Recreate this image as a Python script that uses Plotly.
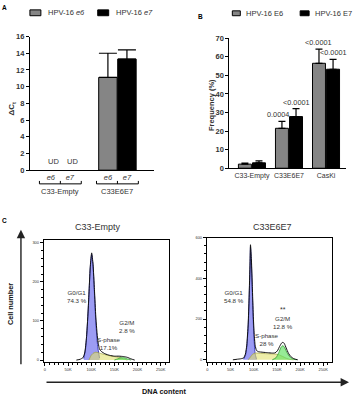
import plotly.graph_objects as go

W, H = 353, 400
FONT = "Liberation Sans, Arial, sans-serif"
TXT = "#333333"

# ---------------- data ----------------
# Panel A (qPCR, delta Ct)
A_groups = ["C33-Empty", "C33E6E7"]
A_genes = ["e6", "e7"]
A_e6 = [None, 11.1]
A_e6_err = [0, 2.9]
A_e7 = [None, 13.3]
A_e7_err = [0, 1.1]
A_undetected = [True, False]

# Panel B (frequency %)
B_groups = ["C33-Empty", "C33E6E7", "CasKi"]
B_e6 = [2.2, 21.5, 56.5]
B_e6_err = [0.5, 3.7, 7.6]
B_e7 = [2.9, 27.8, 53.3]
B_e7_err = [1.0, 4.3, 5.3]
B_e6_p = ["", "0.0004", "<0.0001"]
B_e7_p = ["", "<0.0001", "<0.0001"]

# Panel C (cell-cycle histograms), x in K units
L_title = "C33-Empty"
L_x_g1 = [84, 88, 92, 95, 98, 101, 104, 107, 110, 114, 118]
L_y_g1 = [4, 30, 95, 165, 235, 270, 240, 170, 95, 35, 5]
L_x_s = [95, 100, 105, 110, 115, 120, 130, 140, 150, 160, 170, 178]
L_y_s = [0, 12, 18, 20, 19, 17, 14, 11, 9, 7, 3, 0]
L_x_g2 = [150, 157, 164, 171, 178, 186]
L_y_g2 = [0, 3, 6, 6, 3, 0]
L_x_tot = [68, 76, 82, 86, 90, 94, 98, 101, 104, 107, 110, 114, 118, 122, 130, 140, 150, 160, 170, 178, 186, 194]
L_y_tot = [0, 2, 6, 18, 60, 140, 240, 274, 245, 180, 110, 52, 28, 22, 16, 12, 10, 10, 9, 7, 3, 0]
L_labels = ["G0/G1<br>74.3 %", "S-phase<br>17.1%", "G2/M<br>2.8 %"]

R_title = "C33E6E7"
R_x_g1 = [78, 82, 85, 88, 90, 92, 93, 95, 97, 99, 101, 103, 106]
R_y_g1 = [3, 20, 60, 160, 290, 460, 555, 470, 330, 190, 90, 30, 3]
R_x_s = [88, 93, 98, 103, 110, 120, 130, 140, 148, 155, 162, 170, 178, 186]
R_y_s = [0, 14, 28, 33, 33, 31, 30, 29, 28, 24, 17, 8, 2, 0]
R_x_g2 = [140, 148, 154, 159, 163, 167, 172, 178, 185, 192]
R_y_g2 = [0, 10, 35, 62, 70, 58, 34, 14, 4, 0]
R_x_tot = [55, 65, 72, 78, 82, 85, 88, 90, 92, 93, 95, 97, 99, 101, 103, 106, 110, 120, 130, 140, 146, 151, 156, 160, 163, 166, 170, 175, 180, 187, 195]
R_y_tot = [0, 3, 5, 9, 28, 72, 175, 305, 475, 565, 490, 360, 220, 125, 72, 46, 40, 37, 35, 33, 34, 44, 66, 82, 86, 80, 58, 32, 16, 5, 0]
R_labels = ["G0/G1<br>54.8 %", "S-phase<br>28 %", "G2/M<br>12.8 %"]

C_xticks = [0, 50, 100, 150, 200, 250]
C_xticktext = ["0", "50K", "100K", "150K", "200K", "250K"]


def pxx(x):
    return x / W


def pyy(y):
    return 1 - y / H


GREY = "#858585"
fig = go.Figure()

# ---------------- Panel A ----------------
A_pos_e6 = [g * 3 + 0 for g in range(len(A_groups))]
A_pos_e7 = [g * 3 + 1 for g in range(len(A_groups))]
fig.add_trace(go.Bar(x=A_pos_e6, y=A_e6, width=0.97, marker=dict(color=GREY, line=dict(color="black", width=1)),
                     error_y=dict(type="data", array=A_e6_err, arrayminus=[0] * len(A_e6), symmetric=False,
                                  color="black", thickness=1.2, width=9),
                     xaxis="x", yaxis="y", showlegend=False))
fig.add_trace(go.Bar(x=A_pos_e7, y=A_e7, width=0.97, marker=dict(color="black", line=dict(color="black", width=1)),
                     error_y=dict(type="data", array=A_e7_err, arrayminus=[0] * len(A_e7), symmetric=False,
                                  color="black", thickness=1.2, width=9),
                     xaxis="x", yaxis="y", showlegend=False))

# ---------------- Panel B ----------------
B_pos = list(range(len(B_groups)))
fig.add_trace(go.Bar(x=B_pos, y=B_e6, width=0.35, offset=-0.365,
                     marker=dict(color=GREY, line=dict(color="black", width=1)),
                     error_y=dict(type="data", array=B_e6_err, arrayminus=[0] * 3, symmetric=False,
                                  color="black", thickness=1.2, width=3.5),
                     xaxis="x2", yaxis="y2", showlegend=False))
fig.add_trace(go.Bar(x=B_pos, y=B_e7, width=0.35, offset=0.015,
                     marker=dict(color="black", line=dict(color="black", width=1)),
                     error_y=dict(type="data", array=B_e7_err, arrayminus=[0] * 3, symmetric=False,
                                  color="black", thickness=1.2, width=3.5),
                     xaxis="x2", yaxis="y2", showlegend=False))


# ---------------- Panel C ----------------
def hist(xa, ya, xs, ys, fill, line, w=0.8):
    fig.add_trace(go.Scatter(x=xs, y=ys, mode="lines", fill="tozeroy", fillcolor=fill,
                             line=dict(color=line, width=w, shape="spline", smoothing=0.5),
                             xaxis=xa, yaxis=ya, showlegend=False, hoverinfo="skip"))


for xa, ya, comps in [("x3", "y3", (L_x_g1, L_y_g1, L_x_s, L_y_s, L_x_g2, L_y_g2, L_x_tot, L_y_tot)),
                      ("x4", "y4", (R_x_g1, R_y_g1, R_x_s, R_y_s, R_x_g2, R_y_g2, R_x_tot, R_y_tot))]:
    xg1, yg1, xs, ys, xg2, yg2, xt, yt = comps
    hist(xa, ya, xg1, yg1, "rgba(95,95,235,0.62)", "#3030b8", 0.9)
    hist(xa, ya, xs, ys, "rgba(225,225,110,0.6)", "#a0a040", 0.7)
    hist(xa, ya, xg2, yg2, "rgba(95,225,95,0.65)", "#2f9a2f", 0.8)
    fig.add_trace(go.Scatter(x=xt, y=yt, mode="lines",
                             line=dict(color="#111111", width=1, shape="spline", smoothing=0.5),
                             xaxis=xa, yaxis=ya, showlegend=False, hoverinfo="skip"))

# ---------------- axes ----------------
bold_tick = dict(family=FONT, size=7.5, color=TXT, weight="bold")
axis_common = dict(showline=True, linecolor="black", linewidth=1, ticks="outside", ticklen=3,
                   tickcolor="black", showgrid=False, zeroline=False, fixedrange=True)
no_ticks = {k: v for k, v in axis_common.items() if k not in ("ticks", "ticklen")}

layout = dict(
    width=W, height=H, margin=dict(l=0, r=0, t=0, b=0), autosize=False,
    paper_bgcolor="white", plot_bgcolor="rgba(0,0,0,0)", barmode="overlay",
    font=dict(family=FONT, color=TXT),
    xaxis=dict(domain=[pxx(29), pxx(153)], range=[-1.1, 5.4], anchor="y",
               tickvals=A_pos_e6 + A_pos_e7,
               ticktext=["<i>%s</i>" % A_genes[0]] * len(A_groups) + ["<i>%s</i>" % A_genes[1]] * len(A_groups),
               tickfont=dict(family=FONT, size=7.5, color=TXT), tickangle=0, ticks="", ticklen=0,
               **no_ticks),
    yaxis=dict(domain=[pyy(170), pyy(33.3)], range=[0, 16], anchor="x", dtick=2,
               tickfont=bold_tick, **axis_common),
    xaxis2=dict(domain=[pxx(229), pxx(346)], range=[-0.61, 2.54], anchor="y2",
                tickvals=B_pos, ticktext=B_groups, tickangle=0, ticks="", ticklen=0,
                tickfont=dict(family=FONT, size=7, color=TXT), **no_ticks),
    yaxis2=dict(domain=[pyy(168), pyy(35)], range=[0, 70], anchor="x2", dtick=10,
                tickfont=bold_tick, **axis_common),
)

c_tick = dict(family=FONT, size=4, color=TXT)
for n, (x0, x1, xr, y0, y1, yr, ydt, ymin) in {
        3: (43, 168, [-2.2, 267], 366, 241, [-4.3, 308], 100, 20),
        4: (206.5, 332, [-1, 269], 366, 239, [-9.6, 600], 200, 40)}.items():
    layout["xaxis%d" % n] = dict(domain=[pxx(x0), pxx(x1)], range=xr, anchor="y%d" % n,
                                 tickvals=C_xticks, ticktext=C_xticktext, tickfont=c_tick, tickangle=0,
                                 mirror=True, minor=dict(dtick=10, ticklen=2, ticks="outside", tickcolor="black"),
                                 **axis_common)
    layout["yaxis%d" % n] = dict(domain=[pyy(y0), pyy(y1)], range=yr, anchor="x%d" % n, dtick=ydt,
                                 tickfont=c_tick, mirror=True,
                                 minor=dict(dtick=ymin, ticklen=2, ticks="outside", tickcolor="black"),
                                 **axis_common)
fig.update_layout(**layout)

# ---------------- annotations & shapes ----------------
ann = []
shapes = []


def text(x, y, s, size=7.5, bold=False, xanchor="center", yanchor="middle", angle=0, color=TXT, **kw):
    d = dict(x=x, y=y, text=s, showarrow=False, xanchor=xanchor, yanchor=yanchor, textangle=angle,
             font=dict(family=FONT, size=size, color=color, weight="bold" if bold else "normal"))
    d.update(kw)
    if "xref" not in d:
        d["xref"] = "paper"
    if "yref" not in d:
        d["yref"] = "paper"
    ann.append(d)


# panel letters
text(pxx(4), pyy(4), "A", size=6.5, bold=True, color="black")
text(pxx(200), pyy(13), "B", size=6.5, bold=True, color="black")
text(pxx(4), pyy(221), "C", size=6.5, bold=True, color="black")

# legend A
for (x0, x1, col, lab) in [(29, 40, GREY, "HPV-16 <i>e6</i>"), (97, 108, "black", "HPV-16 <i>e7</i>")]:
    shapes.append(dict(type="rect", xref="paper", yref="paper", x0=pxx(x0), x1=pxx(x1), y0=pyy(12), y1=pyy(6),
                       fillcolor=col, line=dict(color="black", width=1)))
    text(pxx(x1 + 5), pyy(9), lab, size=7.5, xanchor="left")
# legend B
for (x0, x1, col, lab) in [(232, 240, GREY, "HPV-16 E6"), (300, 309, "black", "HPV-16 E7")]:
    shapes.append(dict(type="rect", xref="paper", yref="paper", x0=pxx(x0), x1=pxx(x1), y0=pyy(12), y1=pyy(7),
                       fillcolor=col, line=dict(color="black", width=1)))
    text(pxx(x1 + 4), pyy(9.5), lab, size=7.5, xanchor="left")

# A: y title, UD labels, brackets
text(pxx(11), pyy(107), "ΔC<sub>t</sub>", size=8, bold=True, angle=-90)
for g, ud in enumerate(A_undetected):
    if ud:
        for p in (A_pos_e6[g], A_pos_e7[g]):
            text(p, 0, "UD", size=7.5, xref="x", yref="y", yanchor="bottom", xshift=3, yshift=2)
for g, name in enumerate(A_groups):
    c = g * 3 + 0.5
    xa, xb = c - 1.1, c + 1.1
    shapes.append(dict(type="line", xref="x", yref="paper", x0=xa, x1=xb, y0=pyy(184), y1=pyy(184),
                       line=dict(color="black", width=1)))
    for xt in (xa, c, xb):
        shapes.append(dict(type="line", xref="x", yref="paper", x0=xt, x1=xt, y0=pyy(184), y1=pyy(181),
                           line=dict(color="black", width=1)))
    text(c, pyy(192), name, size=7.5, xref="x")

# B: y title, p-values
text(pxx(211), pyy(103), "Frequency (%)", size=7.5, bold=True, angle=-90)
for i in B_pos:
    if B_e6_p[i]:
        text(i - 0.19, B_e6[i] + B_e6_err[i], B_e6_p[i], size=7.3, xref="x2", yref="y2", yanchor="bottom",
             xshift=-4 if i == 1 else 0, yshift=0)
    if B_e7_p[i]:
        text(i + 0.19, B_e7[i] + B_e7_err[i], B_e7_p[i], size=7.3, xref="x2", yref="y2", yanchor="bottom",
             yshift=0)

# C: titles and phase labels
text(pxx(97), pyy(228), L_title, size=9)
text(pxx(272), pyy(228), R_title, size=9)
for labs, pos in [(L_labels, [(76, 299), (108, 347), (126, 330)]),
                  (R_labels, [(233.5, 299.5), (267, 343), (283, 326)])]:
    for s, (x, y) in zip(labs, pos):
        text(pxx(x), pyy(y), s, size=6.2)
text(pxx(283), pyy(313), "**", size=7)

# arrows and axis labels
ann.append(dict(x=pxx(20), y=pyy(231), xref="paper", yref="paper", ax=0, ay=136, axref="pixel", ayref="pixel",
                text="", showarrow=True, arrowhead=2, arrowsize=1.2, arrowwidth=1.4, arrowcolor="#222222"))
ann.append(dict(x=pxx(349), y=pyy(387), xref="paper", yref="paper", ax=-304, ay=0, axref="pixel", ayref="pixel",
                text="", showarrow=True, arrowhead=2, arrowsize=1.2, arrowwidth=1.4, arrowcolor="#222222"))
text(pxx(9), pyy(307), "Cell number", size=7.3, bold=True, angle=-90, color="#111111")
text(pxx(163), pyy(396), "DNA content", size=7.3, bold=True, color="#111111")

fig.update_layout(annotations=ann, shapes=shapes)
fig.write_html("out.html", config={"displayModeBar": False},
               post_script="document.body.style.margin='0';document.body.style.overflow='hidden';"
                           "window.dispatchEvent(new Event('resize'));")
